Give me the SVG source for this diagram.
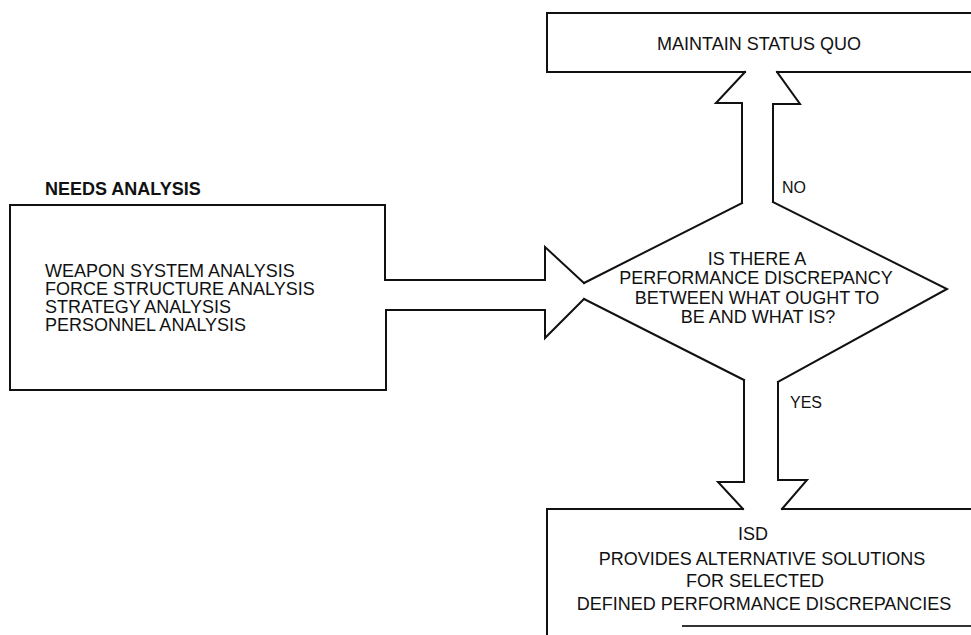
<svg xmlns="http://www.w3.org/2000/svg" width="971" height="635" viewBox="0 0 971 635">
<style>
.ln{fill:none;stroke:#111;stroke-width:2;stroke-linejoin:miter;stroke-linecap:square}
.t{font-family:"Liberation Sans",Arial,sans-serif;font-size:18px;fill:#111}
.m{text-anchor:middle}
.s{font-size:16px}
.b{font-weight:bold}
</style>
<rect width="971" height="635" fill="#fff"/>
<g id="status-quo">
<path class="ln" d="M971,13 H547 V72 H745 M777,72 H971"/>
<text class="t m" x="759" y="50">MAINTAIN STATUS QUO</text>
</g>
<g id="needs-analysis">
<text class="t b" x="45" y="195">NEEDS ANALYSIS</text>
<path class="ln" d="M385,280 V205 H10 V390 H386 V310"/>
<text class="t" x="45" y="277">WEAPON SYSTEM ANALYSIS</text>
<text class="t" x="45" y="295">FORCE STRUCTURE ANALYSIS</text>
<text class="t" x="45" y="313">STRATEGY ANALYSIS</text>
<text class="t" x="45" y="331">PERSONNEL ANALYSIS</text>
</g>
<g id="decision">
<path class="ln" d="M742,203 L584,283 M584,299 L744,380 M778,382 L947,289 L773,202"/>
<text class="t m" x="757" y="265">IS THERE A</text>
<text class="t m" x="756" y="284">PERFORMANCE DISCREPANCY</text>
<text class="t m" x="757" y="304">BETWEEN WHAT OUGHT TO</text>
<text class="t m" x="758" y="323">BE AND WHAT IS?</text>
</g>
<g id="isd">
<path class="ln" d="M547,635 V509 H743 M782,509 H971"/>
<path class="ln" d="M683,626 H971" style="stroke:#333"/>
<text class="t m" x="753" y="540">ISD</text>
<text class="t m" x="762" y="565">PROVIDES ALTERNATIVE SOLUTIONS</text>
<text class="t m" x="755" y="587">FOR SELECTED</text>
<text class="t m" x="764" y="610">DEFINED PERFORMANCE DISCREPANCIES</text>
</g>
<g id="connectors">
<path class="ln" d="M742,203 V103 H716 L745,72"/>
<path class="ln" d="M773,202 V104 H800 L777,72"/>
<text class="t s" x="782" y="193">NO</text>
<path class="ln" d="M385,280 H545 V247 L584,283"/>
<path class="ln" d="M386,310 H545 V338 L584,299"/>
<path class="ln" d="M744,380 V482 H718 L743,509"/>
<path class="ln" d="M778,382 V480 H807 L782,509"/>
<text class="t s" x="790" y="408">YES</text>
</g>
</svg>
